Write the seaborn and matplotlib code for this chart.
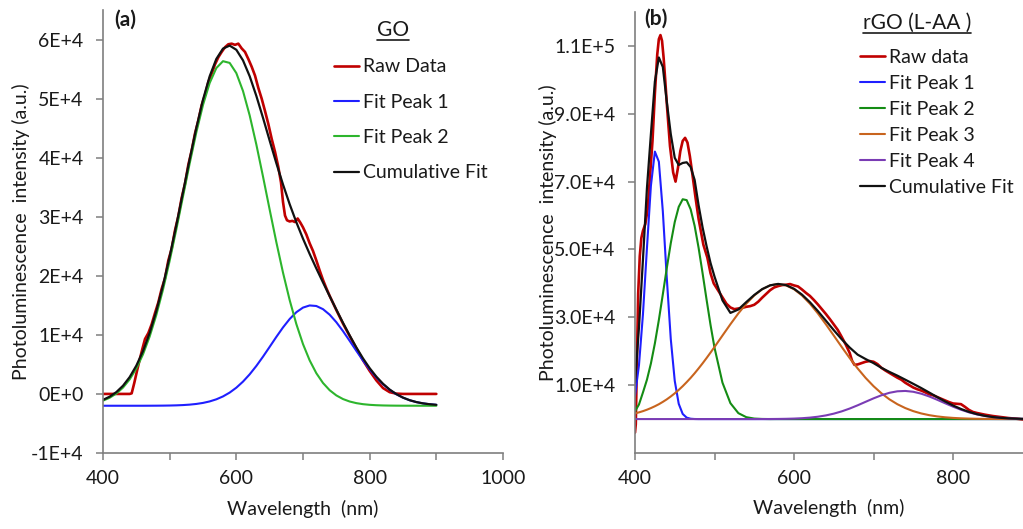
import matplotlib
matplotlib.use("Agg")
import matplotlib.pyplot as plt
import seaborn as sns
import numpy as np
import pandas as pd
from matplotlib.lines import Line2D

# ---------------- data: panel (a) GO ----------------
wl_fit_a = list(range(400, 901, 10))
fit_peak1_a = [-2000, -2000, -2000, -2000, -2000, -2000, -2000, -1995, -1989, -1979,
               -1962, -1933, -1886, -1811, -1695, -1521, -1268, -911, -422, 227,
               1057, 2087, 3318, 4737, 6308, 7974, 9655, 11260, 12686, 13834,
               14618, 14980, 14888, 14352, 13414, 12144, 10634, 8985, 7299, 5664,
               4147, 2801, 1650, 701, -54, -635, -1068, -1381, -1599, -1747, -1845]
fit_peak2_a = [-1135, -647, 66, 1072, 2462, 4307, 6702, 9721, 13377, 17675,
               22551, 27872, 33449, 39020, 44282, 48925, 52639, 55173, 56334, 56043,
               54315, 51284, 47161, 42232, 36807, 31200, 25699, 20537, 15882, 11835,
               8436, 5680, 3507, 1854, 628, -251, -866, -1283, -1557, -1734,
               -1844, -1911, -1951, -1973, -1986, -1993, -1996, -1998, -1999, -2000, -2000]
cumulative_a = [-1001, -464, 309, 1387, 2850, 4785, 7251, 10330, 14041, 18370,
                23255, 28570, 34134, 39713, 45027, 49809, 53779, 56714, 58466, 58973,
                58263, 56473, 53793, 50462, 46747, 42884, 39072, 35462, 32121, 29074,
                26282, 23694, 21242, 18871, 16559, 14274, 12044, 9900, 7876, 6019,
                4361, 2926, 1722, 741, -32, -623, -1062, -1378, -1597, -1746, -1845]
wl_raw_a = [400, 410, 420, 430, 440, 443, 447, 451, 455, 459,
            463, 468, 473, 478, 483, 488, 493, 498, 503, 508,
            513, 518, 523, 528, 533, 538, 543, 548, 553, 558,
            563, 568, 573, 578, 583, 588, 593, 598, 603, 608,
            613, 618, 623, 628, 633, 638, 643, 648, 653, 658,
            663, 667, 670, 673, 676, 680, 684, 688, 692, 696,
            700, 705, 710, 715, 720, 725, 730, 735, 740, 750,
            760, 770, 780, 790, 800, 810, 820, 830, 840, 850,
            860, 870, 880, 890, 900]
raw_a = [0, 0, 0, 0, 0, 100, 1900, 3900, 5800, 7600,
         9300, 10300, 11800, 13700, 15500, 17800, 19600, 22600, 24600, 27700,
         30100, 33200, 35600, 38800, 41200, 44100, 46300, 48900, 50600, 52800,
         54200, 55800, 57000, 57900, 58700, 59200, 59300, 59100, 59300, 58500,
         57900, 56700, 55400, 53900, 51800, 50000, 47900, 45700, 43200, 41000,
         38400, 35800, 32500, 30200, 29400, 29200, 29300, 29100, 29700, 29000,
         28200, 27000, 25500, 24200, 22600, 20900, 19300, 17900, 16600, 14200,
         11900, 9800, 7700, 5700, 3900, 2300, 1000, 300, 50, 0,
         0, 0, 0, 0, 0]

# ---------------- data: panel (b) rGO (L-AA) ----------------
wl_fit_b = list(range(400, 500, 5)) + list(range(500, 891, 10))
fit_peak1_b = [6880, 15920, 30890, 50330, 68770, 78850, 75870, 61250, 41490, 23580,
               11250, 4500, 1510, 426, 101, 20, 0, 0, 0, 0, 0] + [0] * 39
fit_peak2_b = [2300, 4300, 7850, 11580, 16380, 22310, 29210, 36780, 44530, 51860,
               58090, 62560, 64800, 64540, 61830, 56960, 50470, 43000, 35230, 27750,
               21040, 10740, 4690, 1750, 560, 150, 36] + [0] * 33
fit_peak3_b = [1660, 1980, 2340, 2760, 3240, 3780, 4380, 5070, 5820, 6670,
               7590, 8600, 9700, 10890, 12150, 13500, 14940, 16430, 17990, 19600,
               21250, 24620, 27960, 31150, 34020, 36440, 38270, 39410, 39800, 39410,
               38270, 36440, 34020, 31150, 27960, 24620, 21250, 17990, 14940, 12150,
               9700, 7590, 5820, 4380, 3240, 2340, 1660, 1155, 788, 527,
               346, 223, 141, 87, 53, 31, 18, 10, 6, 3]
fit_peak4_b = [0] * 26 + [10, 20, 41, 79, 144, 254, 429, 694, 1076, 1598,
                          2274, 3102, 4057, 5085, 6105, 7025, 7747, 8188, 8293, 8049,
                          7487, 6675, 5703, 4669, 3664, 2755, 1985, 1371, 907, 575,
                          349, 204, 114, 61]
cumulative_b = [10800, 27000, 47000, 68000, 84000, 99500, 106600, 103800, 93500, 84000,
                77000, 74900, 75500, 75700, 74300, 70500, 63000, 56500, 51000, 46000,
                42000, 35000, 31300, 32300, 34500, 36590, 38316, 39430, 39841, 39489,
                38414, 36694, 34449, 31844, 29036, 26218, 23524, 21092, 18997, 17700,
                16500, 15100, 13900, 12800, 11600, 10389, 9147, 7830, 6491, 5196,
                4010, 2978, 2126, 1458, 960, 606, 367, 214, 120, 64]
wl_raw_b = [400, 401, 402, 404, 406, 408, 410, 413, 416, 419,
            422, 425, 428, 430, 432, 434, 436, 438, 440, 444,
            448, 451, 454, 457, 460, 463, 466, 469, 472, 476,
            480, 486, 491, 495, 499, 503, 507, 511, 515, 520,
            525, 530, 535, 540, 545, 550, 555, 560, 565, 570,
            575, 580, 585, 590, 595, 600, 605, 610, 615, 620,
            625, 630, 635, 640, 645, 650, 655, 660, 665, 670,
            673, 676, 680, 685, 690, 695, 700, 705, 710, 715,
            720, 725, 730, 735, 740, 745, 750, 755, 760, 765,
            770, 775, 780, 785, 790, 795, 800, 805, 810, 815,
            820, 825, 830, 840, 850, 860, 870, 880, 890]
raw_b = [-4000, -1500, 12000, 37000, 48000, 53400, 55500, 57500, 62000, 72000,
         82000, 96000, 107500, 112000, 113200, 111500, 106500, 100000, 93000, 80500,
         72700, 70000, 74000, 79000, 82000, 82900, 81500, 77500, 72500, 65500,
         59000, 51400, 47600, 43000, 40000, 38500, 37000, 35500, 34000, 32900,
         32400, 32600, 32800, 33100, 33300, 33700, 34600, 35800, 36900, 38000,
         38800, 39200, 39500, 39600, 39800, 39400, 39100, 38200, 37200, 36300,
         35100, 33800, 32400, 31000, 29500, 27900, 26300, 24200, 22000, 19500,
         17200, 16000, 16100, 16500, 16900, 17100, 16900, 16200, 15100, 14300,
         13600, 12900, 12200, 11600, 10700, 10000, 9300, 8800, 8400, 7900,
         7300, 7000, 6500, 6000, 5500, 5000, 4600, 4500, 4400, 3600,
         2700, 2100, 1800, 1300, 900, 600, 300, 100, -200]

labels_a = ["Raw Data", "Fit Peak 1", "Fit Peak 2", "Cumulative Fit"]
labels_b = ["Raw data", "Fit Peak 1", "Fit Peak 2", "Fit Peak 3", "Fit Peak 4", "Cumulative Fit"]
yticks_a = [-10000, 0, 10000, 20000, 30000, 40000, 50000, 60000]
yticklabels_a = ["-1E+4", "0E+0", "1E+4", "2E+4", "3E+4", "4E+4", "5E+4", "6E+4"]
yticks_b = [10000, 30000, 50000, 70000, 90000, 110000]
yticklabels_b = ["1.0E+4", "3.0E+4", "5.0E+4", "7.0E+4", "9.0E+4", "1.1E+5"]

# ---------------- style ----------------
sns.set_theme(style="white")
plt.rcParams["font.family"] = ["Lato", "DejaVu Sans"]

RED = "#C00000"
BLUE = "#1F1FFF"
GREEN_A = "#2DB52D"
GREEN_B = "#148C14"
ORANGE = "#C8641E"
PURPLE = "#7A3CB4"
BLACK = "#111111"
SPINE = "#7F7F7F"
TXT = "#1A1A1A"
FS = 14

W, H = 1023, 529
fig = plt.figure(figsize=(W / 100, H / 100), dpi=100)
axA = fig.add_axes([103 / W, 76 / H, 400 / W, 443 / H])
axB = fig.add_axes([635 / W, 76 / H, 388 / W, 441 / H])


def draw(ax, x, y, color, lw):
    sns.lineplot(x=x, y=y, ax=ax, color=color, linewidth=lw, estimator=None,
                 sort=False, legend=False)


draw(axA, wl_raw_a, raw_a, RED, 1.9)
draw(axA, wl_fit_a, fit_peak1_a, BLUE, 1.5)
draw(axA, wl_fit_a, fit_peak2_a, GREEN_A, 1.5)
draw(axA, wl_fit_a, cumulative_a, BLACK, 1.6)

draw(axB, wl_raw_b, raw_b, RED, 1.9)
draw(axB, wl_fit_b, fit_peak1_b, BLUE, 1.5)
draw(axB, wl_fit_b, fit_peak2_b, GREEN_B, 1.5)
draw(axB, wl_fit_b, fit_peak3_b, ORANGE, 1.5)
draw(axB, wl_fit_b, fit_peak4_b, PURPLE, 1.5)
draw(axB, wl_fit_b, cumulative_b, BLACK, 1.6)

for ax in (axA, axB):
    for s in ("top", "right"):
        ax.spines[s].set_visible(False)
    for s in ("left", "bottom"):
        ax.spines[s].set_color(SPINE)
        ax.spines[s].set_linewidth(1.2)
    ax.tick_params(axis="both", direction="out", length=5, width=1.1, color=SPINE,
                   labelsize=FS, labelcolor=TXT, left=True, bottom=True)
    ax.tick_params(axis="x", pad=7)
    ax.tick_params(axis="y", pad=9)
    ax.set_ylabel("Photoluminescence  intensity (a.u.)", fontsize=FS, color=TXT)
    ax.set_xlabel("Wavelength  (nm)", fontsize=FS, color=TXT)
    ax.set_facecolor("white")
    ax.grid(False)

axA.set_xlim(400, 1000)
axA.set_ylim(-10000, 65000)
axA.set_xticks(range(400, 1001, 100))
axA.set_xticklabels(["400", "", "600", "", "800", "", "1000"])
axA.set_yticks(yticks_a)
axA.set_yticklabels(yticklabels_a)
axA.xaxis.set_label_coords(0.5, -0.105)
axA.yaxis.set_label_coords(-0.182, 0.5)

axB.set_xlim(400, 888)
axB.set_ylim(-10000, 120000)
axB.set_xticks(range(400, 801, 100))
axB.set_xticklabels(["400", "", "600", "", "800"])
axB.set_yticks(yticks_b)
axB.set_yticklabels(yticklabels_b)
axB.xaxis.set_label_coords(0.5, -0.105)
axB.yaxis.set_label_coords(-0.2, 0.5)

# legends
legA = axA.legend(axA.get_lines()[:4], labels_a, loc="upper left",
                  bbox_to_anchor=(334 / W, 1 - 58.5 / H), bbox_transform=fig.transFigure,
                  frameon=False, fontsize=FS, handlelength=1.3, handletextpad=0.2,
                  labelspacing=0.94, borderpad=0, borderaxespad=0)
for t in legA.get_texts():
    t.set_color(TXT)
legB = axB.legend(axB.get_lines()[:6], labels_b, loc="upper left",
                  bbox_to_anchor=(860 / W, 1 - 49 / H), bbox_transform=fig.transFigure,
                  frameon=False, fontsize=FS, handlelength=1.3, handletextpad=0.2,
                  labelspacing=0.46, borderpad=0, borderaxespad=0)
for t in legB.get_texts():
    t.set_color(TXT)

# panel tags and titles
fig.text(114 / W, 1 - 20 / H, "(a)", fontsize=15, fontweight="bold", color=TXT,
         ha="left", va="center")
fig.text(644 / W, 1 - 19 / H, "(b)", fontsize=15, fontweight="bold", color=TXT,
         ha="left", va="center")
tA = fig.text(393 / W, 1 - 29.5 / H, "GO", fontsize=15, color=TXT, ha="center", va="center")
tB = fig.text(917 / W, 1 - 22.5 / H, "rGO (L-AA )", fontsize=15, color=TXT,
              ha="center", va="center")

fig.canvas.draw()
r = fig.canvas.get_renderer()
for t, yl in ((tA, 39.5), (tB, 32.5)):
    bb = t.get_window_extent(renderer=r)
    fig.add_artist(Line2D([bb.x0 / W, bb.x1 / W], [1 - yl / H, 1 - yl / H],
                          transform=fig.transFigure, color=TXT, lw=1.2))

fig.savefig("out.png", dpi=100, facecolor="white")
